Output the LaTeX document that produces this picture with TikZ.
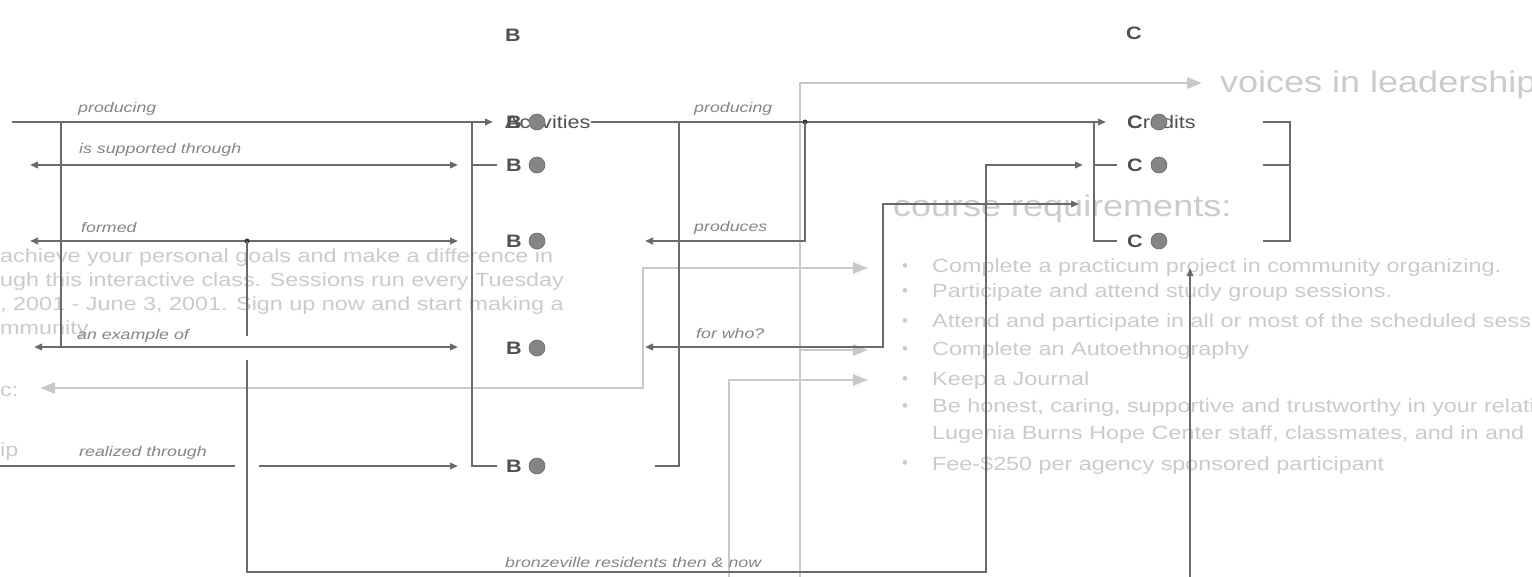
\documentclass[tikz,border=0pt]{standalone}
\usepackage{fontspec}
\setmainfont{Liberation Sans}
\newfontfamily\labfont[FakeStretch=1.27]{Liberation Sans}
\newfontfamily\webfont[FakeStretch=1.23]{Liberation Sans}
\newfontfamily\bigfont[FakeStretch=1.2]{Liberation Sans}
\newfontfamily\nodefont[FakeStretch=1.2]{Liberation Sans}
\usetikzlibrary{arrows.meta}
\definecolor{dkline}{HTML}{6A6A6A}
\definecolor{ltline}{HTML}{C8C8C8}
\definecolor{lttext}{HTML}{CBCBCB}
\definecolor{labtext}{HTML}{858585}
\definecolor{nodetext}{HTML}{505050}
\definecolor{iconc}{HTML}{858585}
\begin{document}
\begin{tikzpicture}[x=1pt,y=-1pt,
  dk/.style={draw=dkline,line width=2.4pt},
  lt/.style={draw=ltline,line width=2.8pt},
  darr/.style={-{Triangle[length=8pt,width=6.5pt]}},
  dboth/.style={{Triangle[length=8pt,width=6.5pt]}-{Triangle[length=8pt,width=6.5pt]}},
  larr/.style={-{Triangle[length=15pt,width=11pt]}},
  lboth/.style={{Triangle[length=15pt,width=11pt]}-{Triangle[length=15pt,width=11pt]}},
  lab/.style={font=\labfont\itshape\fontsize{14}{16}\selectfont, text=labtext, inner sep=0pt, anchor=west},
  web/.style={font=\webfont\fontsize{19}{21}\selectfont, text=lttext, inner sep=0pt, anchor=west},
  bigweb/.style={font=\bigfont\fontsize{30}{32}\selectfont, text=lttext, inner sep=0pt, anchor=west},
  bul/.style={font=\fontsize{17}{19}\selectfont, text=lttext, inner sep=0pt},
  cn/.style={font=\nodefont\bfseries\fontsize{18}{20}\selectfont, text=nodetext, inner sep=0pt, anchor=west},
  cw/.style={font=\nodefont\fontsize{18}{20}\selectfont, text=nodetext, inner sep=0pt, anchor=west},
  ic/.style={circle, fill=iconc, draw=iconc!80!black, line width=0.6pt, minimum size=16pt, inner sep=0pt},
  jdot/.style={circle, fill=black!80, inner sep=0pt, minimum size=5pt},
]
\useasboundingbox (0,0) rectangle (1532,576);
\fill[white] (0,0) rectangle (1532,576);
\clip (0,0) rectangle (1532,576);

% ---------- light background web text ----------
\node[bigweb] (vl) at (1220,85) {voices in leadership};
\node[bigweb] (cr) at (893,209) {course requirements:};
\node[web] (p1) at (0,258) {achieve your personal goals and make a difference in};
\node[web] (p2) at (0,282) {ugh this interactive class. Sessions run every Tuesday};
\node[web] (p3) at (0,306) {, 2001 - June 3, 2001. Sign up now and start making a};
\node[web] (p4) at (0,330) {mmunity};
\node[web] (p5) at (0,391) {c:};
\node[web] (p6) at (0,452) {ip};
\foreach \y/\t [count=\i] in {
  268/{Complete a practicum project in community organizing.},
  293/{Participate and attend study group sessions.},
  323/{Attend and participate in all or most of the scheduled sessions.},
  351/{Complete an Autoethnography},
  381/{Keep a Journal},
  408/{Be honest, caring, supportive and trustworthy in your relationships with},
  435/{Lugenia Burns Hope Center staff, classmates, and in and},
  465/{Fee-\$250 per agency sponsored participant}}
  {\node[web] (bl\i) at (932,\y) {\t};}
\foreach \y [count=\i] in {268,293,323,351,381,408,465}
  {\node[bul] (bd\i) at (905,\y) {\textbullet};}

% ---------- light connectors ----------
\coordinate (la) at (40,388);
\coordinate (lb) at (643,388);
\coordinate (lc) at (643,268);
\coordinate (ld) at (868,268);
\draw[lt,lboth] (la) -- (lb) -- (lc) -- (ld);
\coordinate (lv0) at (800,578);
\coordinate (lv1) at (800,83);
\coordinate (lv2) at (1202,83);
\draw[lt,larr] (lv0) -- (lv1) -- (lv2);
\coordinate (lw0) at (800,350);
\coordinate (lw1) at (868,350);
\draw[lt,larr] (lw0) -- (lw1);
\coordinate (lx0) at (729,578);
\coordinate (lx1) at (729,380);
\coordinate (lx2) at (868,380);
\draw[lt,larr] (lx0) -- (lx1) -- (lx2);

% ---------- nodes (B column) ----------
\node[cn] (hB) at (505,35) {B};
\node[cn] (hC) at (1126,33) {C};
\node[cw] (bA) at (505,122) {Activities};
\node[cn] (b1) at (506,122) {B};
\node[cn] (b2) at (506,165) {B};
\node[cn] (b3) at (506,241) {B};
\node[cn] (b4) at (506,348) {B};
\node[cn] (b5) at (506,466) {B};
\node[ic] (b1i) at (537,122) {};
\node[ic] (b2i) at (537,165) {};
\node[ic] (b3i) at (537,241) {};
\node[ic] (b4i) at (537,348) {};
\node[ic] (b5i) at (537,466) {};
% C column
\node[cw] (cA) at (1127,122) {Credits};
\node[cn] (c1) at (1127,122) {C};
\node[cn] (c2) at (1127,165) {C};
\node[cn] (c3) at (1127,241) {C};
\node[ic] (c1i) at (1159,122) {};
\node[ic] (c2i) at (1159,165) {};
\node[ic] (c3i) at (1159,241) {};

% ---------- dark connectors ----------
\coordinate (r1a) at (12,122);
\coordinate (r1b) at (493,122);
\draw[dk,darr] (r1a) -- (r1b);
\coordinate (r1c) at (591,122);
\coordinate (r1d) at (1106,122);
\draw[dk,darr] (r1c) -- (r1d);
\coordinate (r2a) at (30,165);
\coordinate (r2b) at (458,165);
\draw[dk,dboth] (r2a) -- (r2b);
\coordinate (r3a) at (30,241);
\coordinate (r3b) at (458,241);
\draw[dk,dboth] (r3a) -- (r3b);
\coordinate (r4a) at (34,347);
\coordinate (r4b) at (458,347);
\draw[dk,dboth] (r4a) -- (r4b);
\coordinate (r5a) at (0,466);
\coordinate (r5b) at (235,466);
\coordinate (r5c) at (259,466);
\coordinate (r5d) at (458,466);
\draw[dk] (r5a) -- (r5b);
\draw[dk,darr] (r5c) -- (r5d);
% left vertical
\coordinate (v1a) at (61,122);
\coordinate (v1b) at (61,347);
\draw[dk] (v1a) -- (v1b);
% vertical 247 + bottom line to C2
\node[jdot] (j1) at (247,241) {};
\coordinate (v2a) at (247,336);
\coordinate (v2b) at (247,360);
\coordinate (v2c) at (247,572);
\coordinate (v2d) at (986,572);
\coordinate (v2e) at (986,165);
\coordinate (v2f) at (1083,165);
\draw[dk] (j1.center) -- (v2a);
\draw[dk,darr] (v2b) -- (v2c) -- (v2d) -- (v2e) -- (v2f);
% B bracket
\coordinate (bb1) at (472,122);
\coordinate (bb2) at (472,466);
\coordinate (bb3) at (497,466);
\coordinate (bb4) at (472,165);
\coordinate (bb5) at (497,165);
\draw[dk] (bb1) -- (bb2) -- (bb3);
\draw[dk] (bb4) -- (bb5);
% right of B column
\coordinate (rv1) at (679,122);
\coordinate (rv2) at (679,466);
\coordinate (rv3) at (655,466);
\draw[dk] (rv1) -- (rv2) -- (rv3);
\node[jdot] (j2) at (805,122) {};
\coordinate (pv1) at (805,241);
\coordinate (pv2) at (645,241);
\draw[dk,darr] (j2.center) -- (pv1) -- (pv2);
\coordinate (fw1) at (1079,204);
\coordinate (fw2) at (883,204);
\coordinate (fw3) at (883,347);
\coordinate (fw4) at (645,347);
\draw[dk,dboth] (fw1) -- (fw2) -- (fw3) -- (fw4);
% C bracket
\coordinate (cb1) at (1094,122);
\coordinate (cb2) at (1094,241);
\coordinate (cb3) at (1117,241);
\coordinate (cb4) at (1094,165);
\coordinate (cb5) at (1117,165);
\draw[dk] (cb1) -- (cb2) -- (cb3);
\draw[dk] (cb4) -- (cb5);
% right bracket
\coordinate (rb1) at (1263,122);
\coordinate (rb2) at (1290,122);
\coordinate (rb3) at (1290,241);
\coordinate (rb4) at (1263,241);
\coordinate (rb5) at (1263,165);
\coordinate (rb6) at (1290,165);
\draw[dk] (rb1) -- (rb2) -- (rb3) -- (rb4);
\draw[dk] (rb5) -- (rb6);
% vertical arrow up
\coordinate (ua) at (1190,578);
\coordinate (ub) at (1190,268);
\draw[dk,darr] (ua) -- (ub);

% ---------- connector labels ----------
\node[lab] (t1) at (78,109) {producing};
\node[lab] (t2) at (79,150) {is supported through};
\node[lab] (t3) at (81,227) {formed};
\node[lab] (t4) at (77,336) {an example of};
\node[lab] (t5) at (79,453) {realized through};
\node[lab] (t6) at (694,109) {producing};
\node[lab] (t7) at (694,228) {produces};
\node[lab] (t8) at (696,333) {for who?};
\node[lab] (t9) at (505,562) {bronzeville residents then \& now};
\end{tikzpicture}
\end{document}
